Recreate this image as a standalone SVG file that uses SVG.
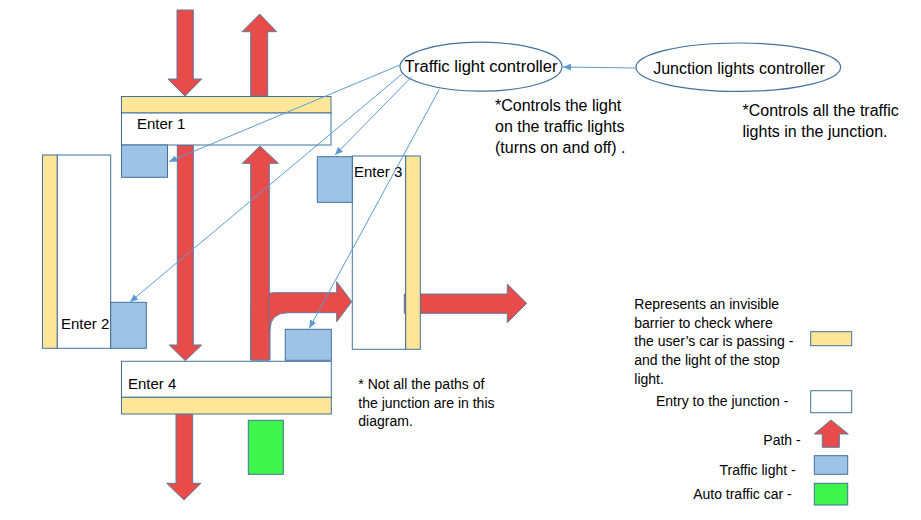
<svg xmlns="http://www.w3.org/2000/svg" width="921" height="520" viewBox="0 0 921 520">
<style>
text{font-family:"Liberation Sans",Arial,sans-serif;fill:#000}
.lbl{font-size:15px}
.big{font-size:16px}
.note{font-size:14px}
.path{fill:#E74C4A;stroke:#5E7AA0;stroke-width:1}
.bar{fill:#FFE699;stroke:#41719C;stroke-width:1}
.box{fill:#FFFFFF;stroke:#41719C;stroke-width:1}
.light{fill:#9DC3E6;stroke:#41719C;stroke-width:1}
.car{fill:#3EF54B;stroke:#41719C;stroke-width:1}
.ell{fill:#FFFFFF;stroke:#41719C;stroke-width:1.2}
.con{fill:none;stroke:#5B9BD5;stroke-width:1;marker-end:url(#ah)}
</style>
<defs>
<marker id="ah" markerUnits="userSpaceOnUse" markerWidth="9" markerHeight="8" refX="8" refY="4" orient="auto">
<path d="M0,0.5 L8,4 L0,7.5 Z" fill="#5B9BD5"/>
</marker>
</defs>

<g id="paths">
<polygon id="path-in-1" class="path" points="177,10 193.3,10 193.3,79 201.7,79 185,96 168,79 177,79"/>
<polygon id="path-out-1" class="path" points="259.7,14 276.7,31.7 267.7,31.7 267.7,96 250.7,96 250.7,31.7 242,31.7"/>
<polygon id="path-1-4" class="path" points="177.3,145 193.3,145 193.3,345 201.7,345 185.3,360.7 169.3,345 177.3,345"/>
<path id="path-4-3" class="path" d="M250.7,360 L250.7,312 Q250.7,292.7 276,292.7 L336.7,292.7 L336.7,281.7 L351.7,301.7 L336.7,321.7 L336.7,312.7 L288,312.7 Q270,312.7 270,330 L270,360 Z"/>
<polygon id="path-4-1" class="path" points="260,146 278.3,163.3 269.3,163.3 269.3,360 250.7,360 250.7,163.3 242.3,163.3"/>
<polygon id="path-out-4" class="path" points="176,414 192.7,414 192.7,483.3 201,483.3 184,500 166.7,483.3 176,483.3"/>
</g>

<g id="enter1">
<rect class="bar" x="121.5" y="96.5" width="209.5" height="16.5"/>
<rect class="box" x="121.5" y="113" width="209.5" height="32"/>
<text class="lbl" x="137" y="129">Enter 1</text>
</g>
<g id="light1"><rect class="light" x="121.5" y="145" width="46" height="32.3"/></g>

<g id="enter2">
<rect class="bar" x="42.5" y="155" width="14.8" height="193.3"/>
<rect class="box" x="57.3" y="155" width="53.4" height="193.3"/>
<text class="lbl" x="61" y="329">Enter 2</text>
</g>
<g id="light2"><rect class="light" x="110.7" y="302.3" width="35.6" height="46"/></g>

<g id="enter3">
<rect class="box" x="352.3" y="156" width="53.4" height="193.3"/>
<text class="lbl" x="354" y="177">Enter 3</text>
</g>
<polygon id="path-out-3" class="path" points="404.3,294 507.3,294 507.3,284 526.7,303.3 507.3,322.7 507.3,313.3 404.3,313.3"/>
<g id="enter3-bar"><rect class="bar" x="405.7" y="156" width="14.6" height="193.3"/></g>
<g id="light3"><rect class="light" x="317.3" y="156.7" width="35" height="45.6"/></g>

<g id="enter4">
<rect class="box" x="121.5" y="361.3" width="209.8" height="36"/>
<rect class="bar" x="121.5" y="397.3" width="209.8" height="16.7"/>
<text class="lbl" x="128" y="389">Enter 4</text>
</g>
<g id="light4"><rect class="light" x="285.3" y="329.3" width="46" height="31"/></g>
<g id="car"><rect class="car" x="248.3" y="420.3" width="35" height="54"/></g>

<g id="traffic-light-controller">
<ellipse class="ell" cx="481" cy="66.7" rx="81" ry="24.5"/>
<text class="big" x="481" y="71.5" text-anchor="middle" textLength="153" lengthAdjust="spacingAndGlyphs">Traffic light controller</text>
</g>
<g id="junction-lights-controller">
<ellipse class="ell" cx="738.3" cy="67.2" rx="102.3" ry="24.2"/>
<text class="big" x="739" y="73.5" text-anchor="middle">Junction lights controller</text>
</g>

<g id="connectors">
<line class="con" x1="636" y1="68" x2="563" y2="67"/>
<line class="con" x1="401" y1="64.5" x2="169" y2="161.7"/>
<line class="con" x1="402" y1="74" x2="130" y2="302"/>
<line class="con" x1="411.7" y1="76.7" x2="335" y2="155"/>
<line class="con" x1="439.3" y1="89.3" x2="309.3" y2="328.3"/>
</g>

<g id="notes">
<text class="big" x="495" y="111">*Controls the light</text>
<text class="big" x="495" y="132">on the traffic lights</text>
<text class="big" x="495" y="153">(turns on and off) .</text>
<text class="big" x="742.5" y="115.5">*Controls all the traffic</text>
<text class="big" x="742.5" y="137">lights in the junction.</text>
<text class="note" x="358.3" y="389">* Not all the paths of</text>
<text class="note" x="358.3" y="407.5">the junction are in this</text>
<text class="note" x="358.3" y="426">diagram.</text>
</g>

<g id="legend">
<text class="note" x="634.3" y="309">Represents an invisible</text>
<text class="note" x="634.3" y="327.5">barrier to check where</text>
<text class="note" x="634.3" y="346">the user’s car is passing -</text>
<text class="note" x="634.3" y="364.5">and the light of the stop</text>
<text class="note" x="634.3" y="383.5">light.</text>
<rect class="bar" x="810.7" y="331.7" width="41" height="14"/>
<text class="note" x="788.3" y="405.5" text-anchor="end">Entry to the junction -</text>
<rect class="box" x="810.7" y="390.7" width="41" height="22"/>
<text class="note" x="800.7" y="444.5" text-anchor="end">Path -</text>
<polygon class="path" points="831,420 848.3,434 839.3,434 839.3,447.3 822.3,447.3 822.3,434 814.3,434"/>
<text class="note" x="795.7" y="474.5" text-anchor="end">Traffic light -</text>
<rect class="light" x="814.3" y="455.7" width="33.4" height="18.6"/>
<text class="note" x="791.7" y="498.8" text-anchor="end">Auto traffic car -</text>
<rect class="car" x="814.3" y="483.3" width="33.4" height="21.7"/>
</g>
</svg>
